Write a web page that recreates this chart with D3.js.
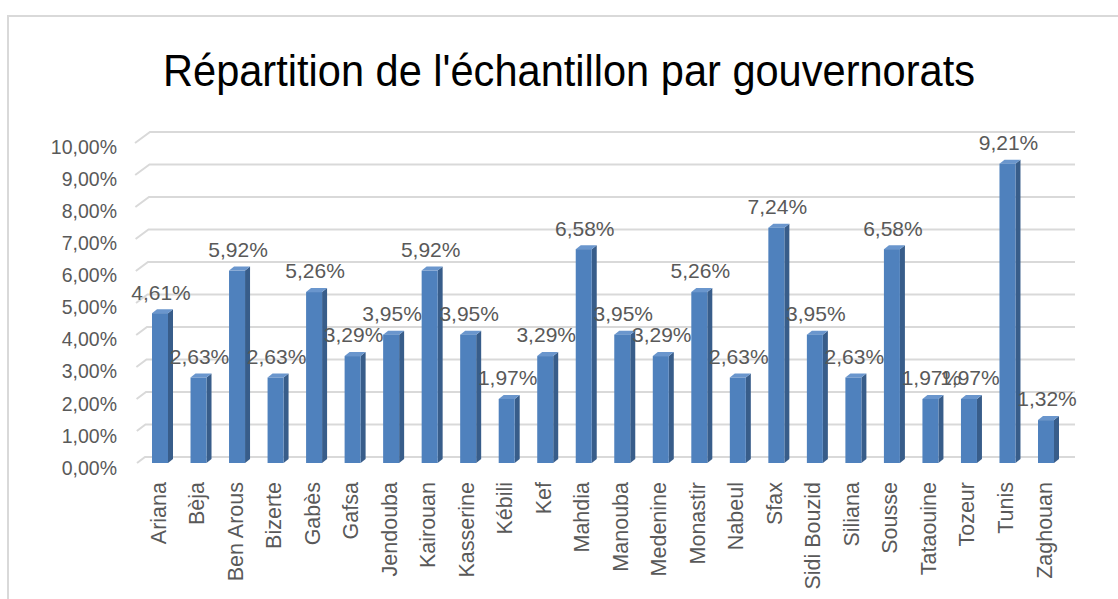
<!DOCTYPE html>
<html>
<head>
<meta charset="utf-8">
<script src="https://cdn.jsdelivr.net/npm/d3@7"></script>
<style>
  body { margin: 0; background: #fff; }
  svg { display: block; font-family: "Liberation Sans", Arial, sans-serif; }
</style>
</head>
<body>
<svg id="chart" width="1118" height="599"></svg>
<script>
let WIDTH = 1118;
let HEIGHT = 599;

// données
let gouvernorats = ['Ariana', 'Bèja', 'Ben Arous', 'Bizerte', 'Gabès', 'Gafsa', 'Jendouba', 'Kairouan',
  'Kasserine', 'Kébili', 'Kef', 'Mahdia', 'Manouba', 'Medenine', 'Monastir', 'Nabeul', 'Sfax',
  'Sidi Bouzid', 'Siliana', 'Sousse', 'Tataouine', 'Tozeur', 'Tunis', 'Zaghouan'];
let pourcentages = [4.61, 2.63, 5.92, 2.63, 5.26, 3.29, 3.95, 5.92, 3.95, 1.97, 3.29, 6.58,
  3.95, 3.29, 5.26, 2.63, 7.24, 3.95, 2.63, 6.58, 1.97, 1.97, 9.21, 1.32];
let ticks = [0, 1, 2, 3, 4, 5, 6, 7, 8, 9, 10];

let svg = d3.select('#chart');

// cadre
svg.append('rect')
  .attr('x', 8).attr('y', 16)
  .attr('width', WIDTH + 20).attr('height', HEIGHT + 20)
  .attr('fill', 'none')
  .attr('stroke', '#d9d9d9')
  .attr('stroke-width', 2);

// titre
svg.append('text')
  .attr('x', 569).attr('y', 86)
  .attr('text-anchor', 'middle')
  .attr('font-size', 44)
  .attr('fill', '#000')
  .attr('textLength', 812)
  .attr('lengthAdjust', 'spacingAndGlyphs')
  .text("Répartition de l'échantillon par gouvernorats");

// échelles
let xScale = d3.scalePoint().domain(gouvernorats).range([160, 1046]);
let yFront = d3.scaleLinear().domain([0, 10]).range([463, 138]);
let yBack = d3.scaleLinear().domain([0, 10]).range([457, 132]);
let ySide = d3.scaleLinear().domain([0, 10]).range([463, 143]);
let xSide = d3.scaleLinear().domain([0, 10]).range([137, 135]);
let xBackStart = d3.scaleLinear().domain([0, 10]).range([145, 150]);
let yLabel = d3.scaleLinear().domain([0, 10]).range([468, 147]);

let fmt = function (v, n) {
  return v.toFixed(n).replace('.', ',') + '%';
};

// quadrillage (paroi latérale + paroi du fond)
let grid = svg.append('g').attr('stroke', '#d9d9d9').attr('stroke-width', 2).attr('fill', 'none');
ticks.forEach(function (t) {
  grid.append('polyline')
    .attr('points', [
      [xSide(t), ySide(t)],
      [xBackStart(t), yBack(t)],
      [1075, yBack(t)]
    ].map(function (p) { return p.join(','); }).join(' '));
});

// axe vertical
let leftAxis = d3.axisLeft(yLabel)
  .tickValues(ticks)
  .tickSize(0)
  .tickPadding(0)
  .tickFormat(function (d) { return fmt(d, 2); });
let yAxis = svg.append('g')
  .attr('transform', 'translate(117,0)')
  .call(leftAxis);
yAxis.select('.domain').remove();
yAxis.selectAll('text')
  .attr('font-size', 19.5)
  .attr('font-family', '"Liberation Sans", Arial, sans-serif')
  .attr('fill', '#595959');

// barres 3D
let DX = 5, DY = 4, HALF = 8;
let bars = svg.append('g').selectAll('g')
  .data(gouvernorats)
  .enter().append('g');

bars.append('polygon')
  .attr('fill', '#385d8a')
  .attr('points', function (d, i) {
    let c = xScale(d), top = yFront(pourcentages[i]), base = yFront(0);
    return [[c + HALF, top], [c + HALF + DX, top - DY], [c + HALF + DX, base - DY], [c + HALF, base]]
      .map(function (p) { return p.join(','); }).join(' ');
  });

bars.append('polygon')
  .attr('fill', '#6a96cd')
  .attr('points', function (d, i) {
    let c = xScale(d), top = yFront(pourcentages[i]);
    return [[c - HALF, top], [c + HALF, top], [c + HALF + DX, top - DY], [c - HALF + DX, top - DY]]
      .map(function (p) { return p.join(','); }).join(' ');
  });

bars.append('rect')
  .attr('fill', '#4f81bd')
  .attr('x', function (d) { return xScale(d) - HALF; })
  .attr('y', function (d, i) { return yFront(pourcentages[i]); })
  .attr('width', HALF * 2)
  .attr('height', function (d, i) { return yFront(0) - yFront(pourcentages[i]); });

// étiquettes de données
svg.append('g').selectAll('text')
  .data(gouvernorats)
  .enter().append('text')
  .attr('x', function (d) { return xScale(d) + 1; })
  .attr('y', function (d, i) { return yFront(pourcentages[i]) - 21; })
  .attr('dy', '0.35em')
  .attr('text-anchor', 'middle')
  .attr('font-size', 21)
  .attr('fill', '#595959')
  .text(function (d, i) { return fmt(pourcentages[i], 2); });

// étiquettes des catégories
svg.append('g').selectAll('text')
  .data(gouvernorats)
  .enter().append('text')
  .attr('transform', function (d) { return 'translate(' + (xScale(d) - 2) + ',482) rotate(-90)'; })
  .attr('dy', '0.35em')
  .attr('text-anchor', 'end')
  .attr('font-size', 21.5)
  .attr('fill', '#595959')
  .text(function (d) { return d; });
</script>
</body>
</html>
